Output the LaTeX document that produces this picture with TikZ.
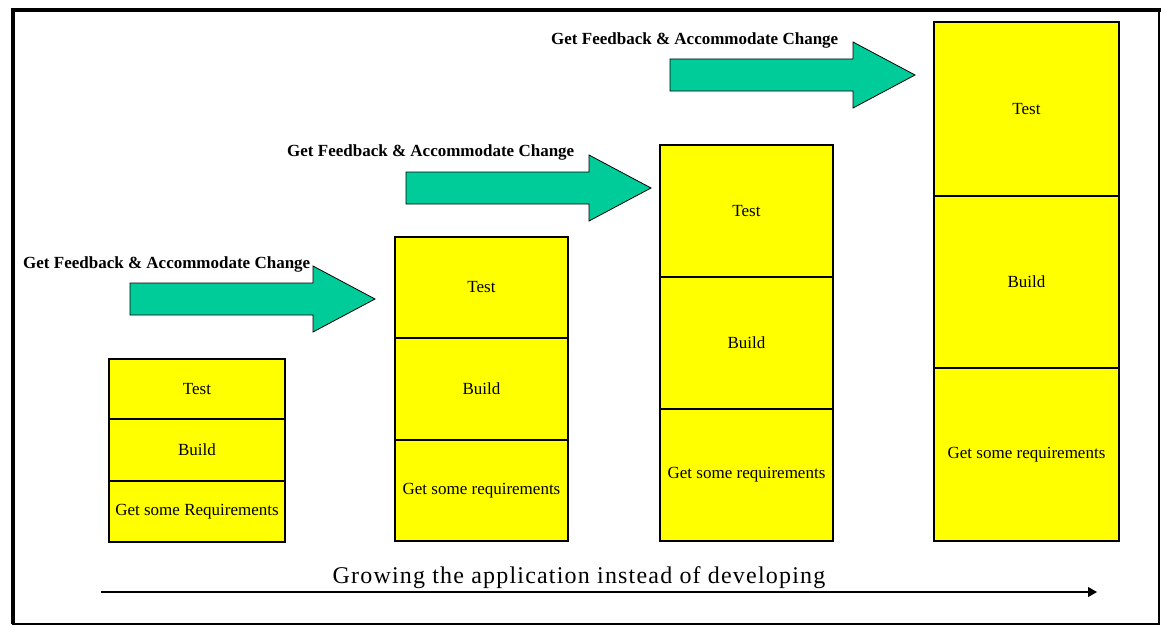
\documentclass[tikz,border=0pt]{standalone}
\usepackage{fontspec}
\setmainfont{Liberation Serif}
\newfontfamily\growfont[LetterSpace=5]{Liberation Serif}
\usetikzlibrary{positioning,arrows.meta}
\definecolor{boxyellow}{HTML}{FFFF00}
\definecolor{fbgreen}{HTML}{00CC99}
\begin{document}
\begin{tikzpicture}[x=1pt,y=-1pt,
   cell/.style={draw,fill=boxyellow,line width=1.2pt,inner sep=0pt,outer sep=0pt,
                font=\fontsize{17}{20}\selectfont},
   fblabel/.style={anchor=base west,inner sep=0pt,font=\bfseries\fontsize{17}{20}\selectfont},
   fbarrow/.pic={\draw[fill=fbgreen,line width=.8pt,line join=miter]
       (0,-16) -- (183,-16) -- (183,-33) -- (245,0) -- (183,33) -- (183,16) -- (0,16) -- cycle;}]
   \useasboundingbox (0,0) rectangle (1161,626);
   % frame
   \draw[line width=1.5pt] (13,10) rectangle (1159,624);
   \draw[line width=4.5pt] (13,624) -- (13,10) -- (1161,10);
   % first stack
   \node[cell,minimum width=176pt,minimum height=60pt,anchor=north west] (test1) at (109,359) {Test};
   \node[cell,minimum width=176pt,minimum height=62pt,below=0pt of test1] (build1) {Build};
   \node[cell,minimum width=176pt,minimum height=61pt,below=0pt of build1] (req1) {Get some Requirements};
   % second stack
   \node[cell,minimum width=173pt,minimum height=101pt,anchor=north west] (test2) at (395,237) {Test};
   \node[cell,minimum width=173pt,minimum height=102pt,below=0pt of test2] (build2) {Build};
   \node[cell,minimum width=173pt,minimum height=101pt,below=0pt of build2] (req2) {Get some requirements};
   % third stack
   \node[cell,minimum width=173pt,minimum height=132pt,anchor=north west] (test3) at (660,145) {Test};
   \node[cell,minimum width=173pt,minimum height=132pt,below=0pt of test3] (build3) {Build};
   \node[cell,minimum width=173pt,minimum height=132pt,below=0pt of build3] (req3) {Get some requirements};
   % fourth stack
   \node[cell,minimum width=185pt,minimum height=174pt,anchor=north west] (test4) at (934,22) {Test};
   \node[cell,minimum width=185pt,minimum height=172pt,below=0pt of test4] (build4) {Build};
   \node[cell,minimum width=185pt,minimum height=173pt,below=0pt of build4] (req4) {Get some requirements};
   % feedback arrows
   \pic at (130,299) {fbarrow};
   \pic at (406,188) {fbarrow};
   \pic at (670,75)  {fbarrow};
   \node[fblabel] (fb1) at (23,268)  {Get Feedback \& Accommodate Change};
   \node[fblabel] (fb2) at (287,156) {Get Feedback \& Accommodate Change};
   \node[fblabel] (fb3) at (551,45)  {Get Feedback \& Accommodate Change};
   % growth axis
   \coordinate (start) at (101,592);
   \coordinate (end)   at (1097,592);
   \draw[line width=1.2pt,-{Triangle[length=9pt,width=10pt]}] (start) -- (end);
   \node[anchor=base,inner sep=0pt,font=\growfont\fontsize{24}{28}\selectfont] (grow) at (579,583)
        {Growing the application instead of developing};
\end{tikzpicture}
\end{document}
